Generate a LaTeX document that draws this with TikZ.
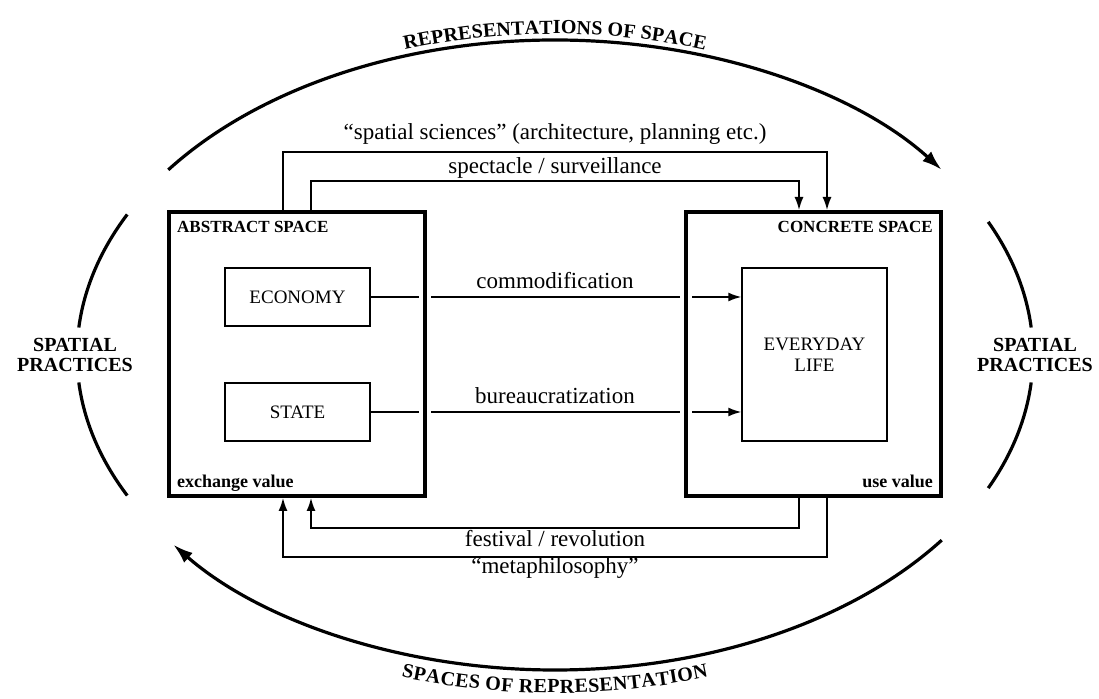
\documentclass[tikz,border=0pt]{standalone}
\usepackage{fontspec}
\setmainfont{Liberation Serif}
\usetikzlibrary{arrows.meta,decorations.text,calc}
\begin{document}
\begin{tikzpicture}[x=1pt,y=1pt,
  bigbox/.style={draw=white, double=black, double distance=4pt, line width=4pt, inner sep=0pt, outer sep=0pt},
  smallbox/.style={draw, line width=1.5pt, minimum width=145pt, minimum height=58pt, inner sep=0pt, font=\fontsize{19}{21}\selectfont, align=center},
  conn/.style={line width=1.5pt},
  arrowc/.style={-{Latex[length=13pt,width=9pt]}},
  arcline/.style={line width=3.2pt},
  arcarrow/.style={-{Latex[length=20pt,width=13pt]}},
  lbl/.style={inner sep=0pt, font=\fontsize{23}{27}\selectfont},
  boxlbl/.style={inner sep=0pt, font=\fontsize{17}{19}\selectfont\bfseries},
  boxlbltwo/.style={inner sep=0pt, font=\fontsize{18}{20}\selectfont\bfseries},
  side/.style={inner sep=0pt, align=center, font=\fontsize{20}{20}\selectfont\bfseries}
]
\useasboundingbox (0,0) rectangle (1099,698);
\coordinate (C) at (555,343);

% outer ellipse arcs
\draw[arcline,arcarrow] ($(C)+(144:478pt and 315pt)$) arc[start angle=144,end angle=36,x radius=478pt,y radius=315pt];
\draw[arcline,arcarrow] ($(C)+(-36:478pt and 315pt)$) arc[start angle=-36,end angle=-143,x radius=478pt,y radius=315pt];
\draw[arcline] ($(C)+(153.5:478pt and 315pt)$) arc[start angle=153.5,end angle=175,x radius=478pt,y radius=315pt];
\draw[arcline] ($(C)+(185:478pt and 315pt)$) arc[start angle=185,end angle=206.5,x radius=478pt,y radius=315pt];
\draw[arcline] ($(C)+(25:478pt and 315pt)$) arc[start angle=25,end angle=5,x radius=478pt,y radius=315pt];
\draw[arcline] ($(C)+(-5:478pt and 315pt)$) arc[start angle=-5,end angle=-25,x radius=478pt,y radius=315pt];

% texts along arcs
\path[decorate,decoration={text along path,text align=center,raise=6pt,
  text={|\fontsize{20}{20}\selectfont\bfseries|REPRESENTATIONS OF SPACE}}]
  ($(C)+(144:478pt and 315pt)$) arc[start angle=144,end angle=36,x radius=478pt,y radius=315pt];
\path[decorate,decoration={text along path,text align=center,raise=-23pt,
  text={|\fontsize{20}{20}\selectfont\bfseries|SPACES OF REPRESENTATION}}]
  ($(C)+(216:478pt and 315pt)$) arc[start angle=216,end angle=324,x radius=478pt,y radius=315pt];

\node[side] (spl) at (75,343) {SPATIAL\\PRACTICES};
\node[side] (spr) at (1035,343) {SPATIAL\\PRACTICES};

% inner boxes
\node[smallbox] (eco) at (297.5,401) {ECONOMY};
\node[smallbox] (state) at (297.5,286) {STATE};
\node[smallbox, minimum height=173pt] (life) at (814.5,343.5) {EVERYDAY\\LIFE};

% horizontal arrows
\draw[conn,arrowc] (eco.east) -- (eco.east -| life.west);
\draw[conn,arrowc] (state.east) -- (state.east -| life.west);

% big boxes
\node[bigbox, minimum width=256pt, minimum height=284pt] (abs) at (297,344) {};
\node[bigbox, minimum width=255pt, minimum height=284pt] (conc) at (813.5,344) {};

% routed connectors
\coordinate (s1) at (283,546); \coordinate (s2) at (827,546);
\coordinate (p1) at (311,517); \coordinate (p2) at (799,517);
\coordinate (f1) at (799,170); \coordinate (f2) at (311,170);
\coordinate (m1) at (827,141); \coordinate (m2) at (283,141);
\draw[conn,arrowc] ([yshift=2pt]abs.north -| s1) -- (s1) -- (s2) -- ([yshift=2pt]conc.north -| s2);
\draw[conn,arrowc] ([yshift=2pt]abs.north -| p1) -- (p1) -- (p2) -- ([yshift=2pt]conc.north -| p2);
\draw[conn,arrowc] ([yshift=-2pt]conc.south -| f1) -- (f1) -- (f2) -- ([yshift=-2pt]abs.south -| f2);
\draw[conn,arrowc] ([yshift=-2pt]conc.south -| m1) -- (m1) -- (m2) -- ([yshift=-2pt]abs.south -| m2);

% labels
\node[lbl, anchor=base] (lss) at (555,558) {“spatial sciences” (architecture, planning etc.)};
\node[lbl, anchor=base] (lsp) at (555,524) {spectacle / surveillance};
\node[lbl, anchor=base] (lcom) at (555,409) {commodification};
\node[lbl, anchor=base] (lbur) at (555,294) {bureaucratization};
\node[lbl, anchor=base] (lfes) at (555,151) {festival / revolution};
\node[lbl, anchor=base] (lmet) at (555,124) {“metaphilosophy”};

\node[boxlbl, anchor=base west] (labs) at (177,465) {ABSTRACT SPACE};
\node[boxlbl, anchor=base east] (lconc) at (933,465) {CONCRETE SPACE};
\node[boxlbltwo, anchor=base west] (lex) at (177,210) {exchange value};
\node[boxlbltwo, anchor=base east] (luse) at (933,210) {use value};
\end{tikzpicture}
\end{document}
